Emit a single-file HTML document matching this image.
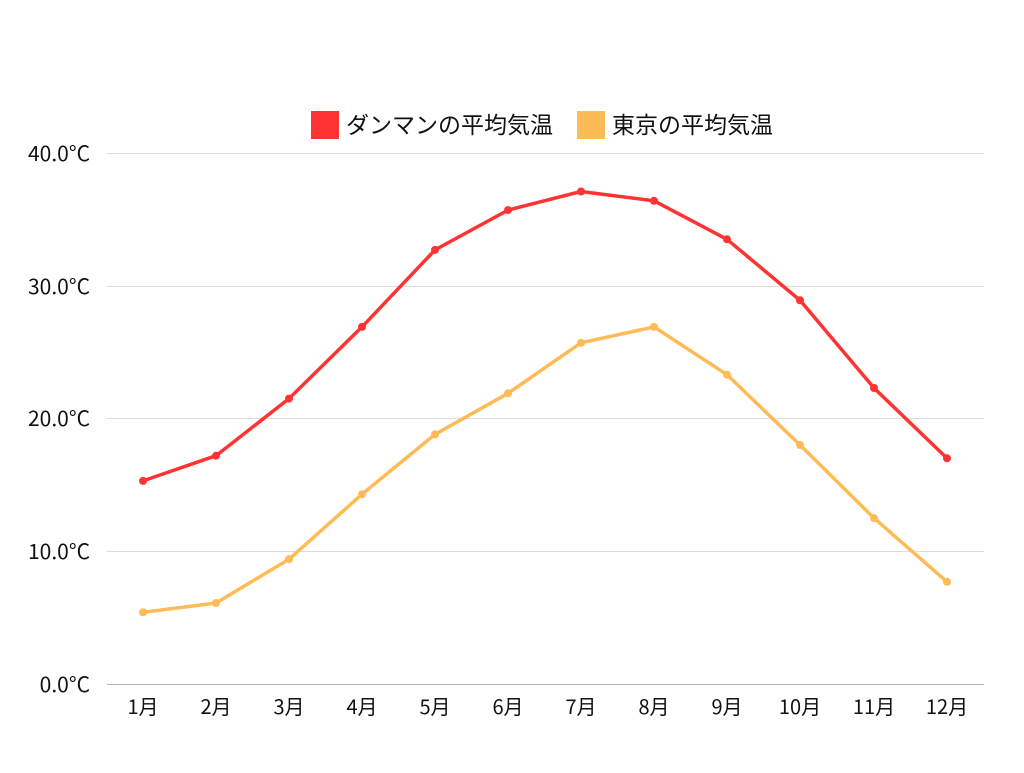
<!DOCTYPE html>
<html><head><meta charset="utf-8"><style>
html,body{margin:0;padding:0;background:#fff;}
svg text{font-family:"Noto Sans CJK JP","Liberation Sans",sans-serif;fill:#111;}
</style></head><body>
<svg width="1024" height="768" xmlns="http://www.w3.org/2000/svg">
<g stroke="#dcdcdc" stroke-width="1">
<line x1="107" x2="984" y1="153.5" y2="153.5"/>
<line x1="107" x2="984" y1="286.5" y2="286.5"/>
<line x1="107" x2="984" y1="418.5" y2="418.5"/>
<line x1="107" x2="984" y1="551.5" y2="551.5"/>
</g>
<line x1="107" x2="984" y1="684.5" y2="684.5" stroke="#b0b0b0" stroke-width="1"/>
<g font-size="21" text-anchor="end">
<text x="90" y="161">40.0°C</text>
<text x="90" y="294">30.0°C</text>
<text x="90" y="426">20.0°C</text>
<text x="90" y="559">10.0°C</text>
<text x="90" y="692">0.0°C</text>
</g>
<g font-size="20" text-anchor="middle">
<text x="143" y="714">1月</text><text x="216" y="714">2月</text><text x="289" y="714">3月</text><text x="362" y="714">4月</text><text x="435" y="714">5月</text><text x="508" y="714">6月</text><text x="581" y="714">7月</text><text x="654" y="714">8月</text><text x="727" y="714">9月</text><text x="800" y="714">10月</text><text x="874" y="714">11月</text><text x="947" y="714">12月</text>
</g>
<rect x="311" y="111" width="28" height="28" fill="#ff3333"/>
<text x="346" y="133" font-size="23">ダンマンの平均気温</text>
<rect x="577" y="111" width="28" height="28" fill="#ffbb55"/>
<text x="612" y="133" font-size="23">東京の平均気温</text>
<polyline fill="none" stroke="#ffbb55" stroke-width="3.5" stroke-linejoin="round" points="143,612.3 216,603 289,559.2 362,494.2 435,434.4 508,393.3 581,342.8 654,326.9 727,374.7 800,445 874,518.1 947,581.8"/>
<g fill="#ffbb55">
<circle cx="143" cy="612.3" r="4"/><circle cx="216" cy="603" r="4"/><circle cx="289" cy="559.2" r="4"/><circle cx="362" cy="494.2" r="4"/><circle cx="435" cy="434.4" r="4"/><circle cx="508" cy="393.3" r="4"/><circle cx="581" cy="342.8" r="4"/><circle cx="654" cy="326.9" r="4"/><circle cx="727" cy="374.7" r="4"/><circle cx="800" cy="445" r="4"/><circle cx="874" cy="518.1" r="4"/><circle cx="947" cy="581.8" r="4"/>
</g>
<polyline fill="none" stroke="#ff3333" stroke-width="3.5" stroke-linejoin="round" points="143,480.9 216,455.7 289,398.6 362,326.9 435,249.9 508,210.1 581,191.5 654,200.8 727,239.3 800,300.3 874,388 947,458.3"/>
<g fill="#ff3333">
<circle cx="143" cy="480.9" r="4"/><circle cx="216" cy="455.7" r="4"/><circle cx="289" cy="398.6" r="4"/><circle cx="362" cy="326.9" r="4"/><circle cx="435" cy="249.9" r="4"/><circle cx="508" cy="210.1" r="4"/><circle cx="581" cy="191.5" r="4"/><circle cx="654" cy="200.8" r="4"/><circle cx="727" cy="239.3" r="4"/><circle cx="800" cy="300.3" r="4"/><circle cx="874" cy="388" r="4"/><circle cx="947" cy="458.3" r="4"/>
</g>
</svg>
</body></html>
